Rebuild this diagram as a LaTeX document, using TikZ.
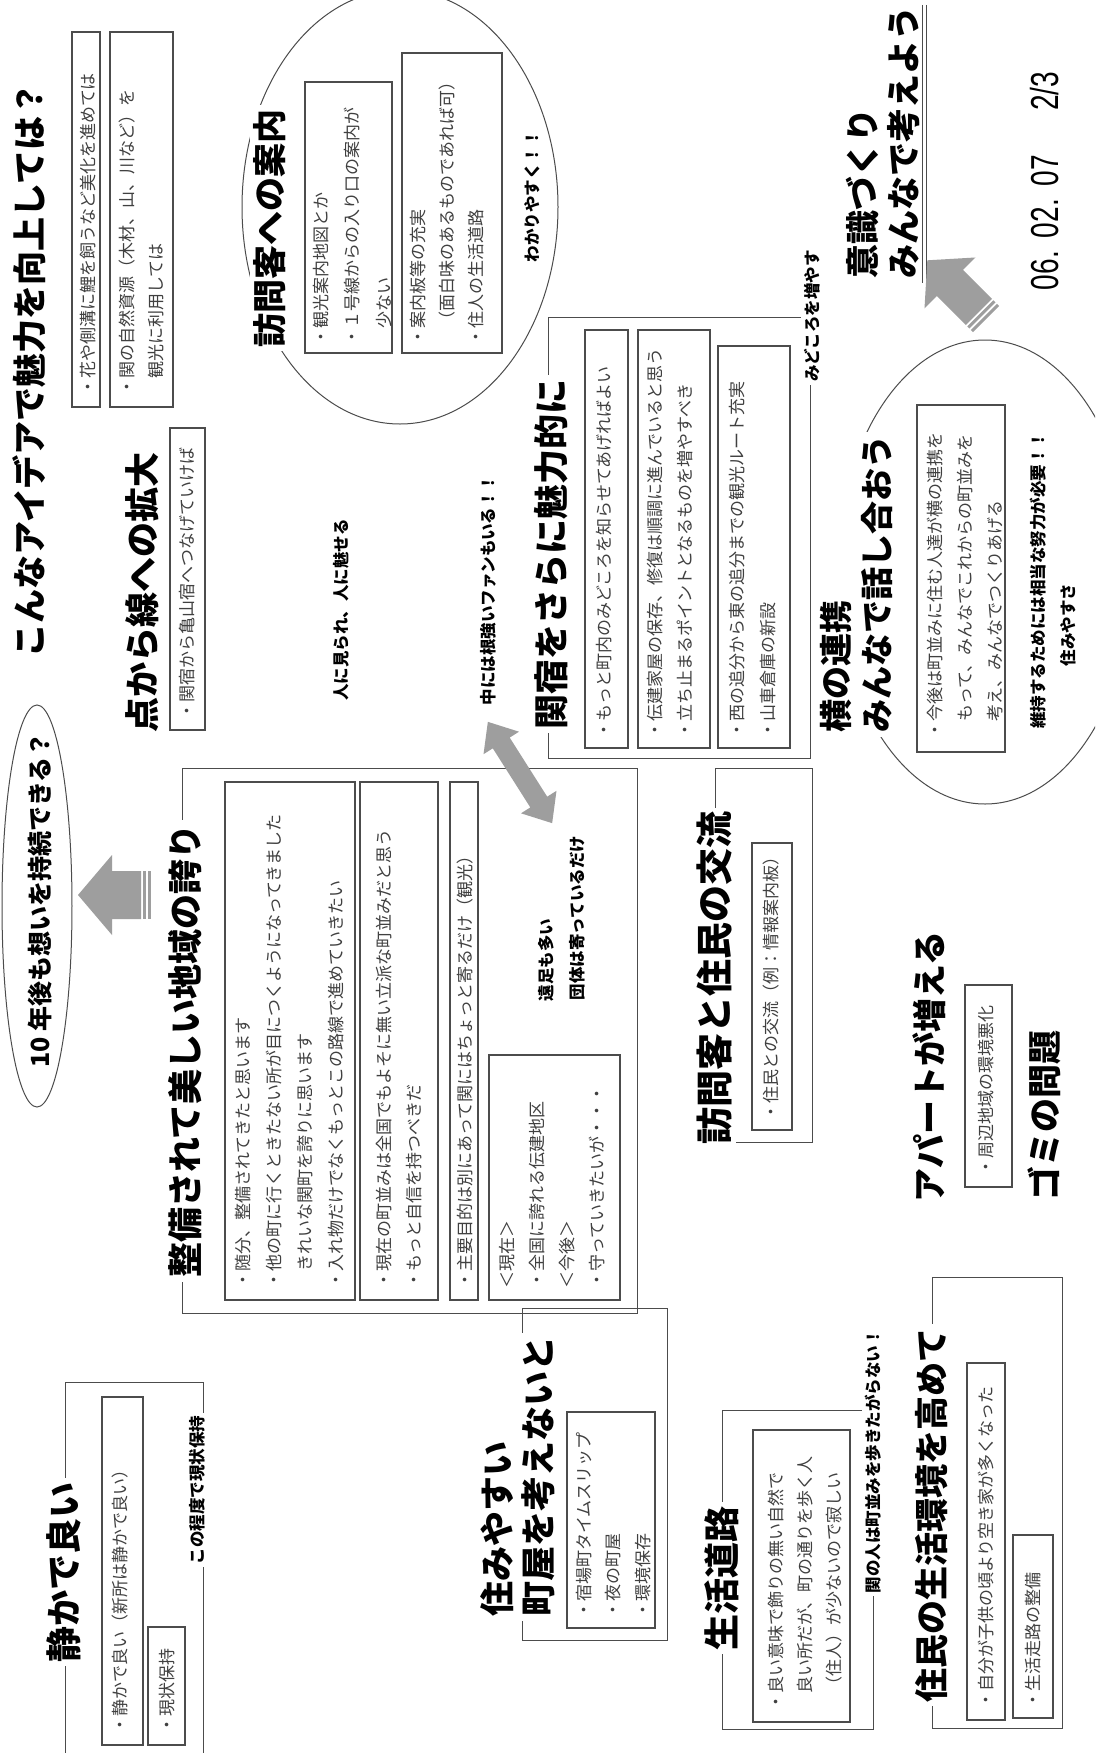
\documentclass[tikz,border=0pt]{standalone}
\usepackage{fontspec}
\newfontfamily\jp{Noto Sans CJK JP}
\newfontfamily\datefont[FakeStretch=0.72]{Liberation Sans}
\tikzset{
  hd/.style={font=\jp\bfseries\fontsize{#1}{41}\selectfont, rotate=90, inner sep=4pt, align=left},
  hd/.default=35,
  hdw/.style={hd=#1, fill=white},
  hdw/.default=35,
  sm/.style={font=\jp\bfseries\fontsize{16.5}{20}\selectfont, rotate=90, inner sep=1pt},
  smw/.style={sm, fill=white, inner sep=3pt},
  body/.style={font=\jp\fontsize{17}{#1}\selectfont, rotate=90, inner sep=0pt, align=left, text=black!75, anchor=west},
  body/.default=30,
  bx/.style={draw=black!70, line width=1.1pt},
  fr/.style={draw=black!70, line width=1pt},
  afill/.style={fill=black!38}
}
\newcommand\stripearrow[7]{%
  \begin{scope}[shift={(#1,#2)},rotate=#3]
    \fill[afill] (0,-#7) rectangle (3,#7);
    \fill[afill] (5,-#7) rectangle (8,#7);
    \fill[afill] (10,-#7) -- (#4-#5,-#7) -- (#4-#5,-#6) -- (#4,0) -- (#4-#5,#6) -- (#4-#5,#7) -- (10,#7) -- cycle;
  \end{scope}}
\begin{document}
\begin{tikzpicture}[x=1pt,y=-1pt]
\useasboundingbox (0,0) rectangle (1095,1753);
\clip (0,0) rectangle (1095,1753);
\fill[white] (0,0) rectangle (1095,1753);

% ---- title and top-left boxes
\node[hd=34, inner sep=0pt] (title) at (29,370) {こんなアイデアで魅力を向上しては？};
\draw[bx] (72,32) rectangle (100,407);
\node[body] (t1) at (88,396) {・花や側溝に鯉を飼うなど美化を進めては};
\draw[bx] (110,32) rectangle (173,407);
\node[body=29] (t2) at (141.5,396) {・関の自然資源（木材、山、川など）を\\　観光に利用しては};

% ---- visitor guidance ellipse
\draw[fr] (400,207) ellipse [x radius=158pt, y radius=217pt];
\node[hdw=34] (h1) at (270,228) {訪問客への案内};
\draw[bx] (305,82) rectangle (392,353);
\node[body=31.5] (t3) at (352.5,346) {・観光案内地図とか\\・１号線からの入り口の案内が\\　少ない};
\draw[bx] (402,53) rectangle (502,353);
\node[body=29] (t4) at (447,346) {・案内板等の充実\\　（面白味のあるものであれば可）\\・住人の生活道路};
\node[sm] (n1) at (532,196) {わかりやすく！！};

% ---- awareness heading, date
\node[hd=34, anchor=west] (h2) at (882.5,283) {意識づくり\\みんなで考えよう};
\draw[black!70, line width=0.9pt] (922,5) -- (922,283);
\draw[black!70, line width=0.9pt] (926,5) -- (926,283);
\node[font=\datefont\fontsize{39}{42}\selectfont, rotate=90, inner sep=0pt] (date) at (1045,181) {06.\hspace{13pt}02.\hspace{13pt}07\hspace{44pt}2/3};
\stripearrow{986}{319}{135}{83}{32}{36}{18.5}

% ---- 10 years ellipse
\draw[fr] (37,906) ellipse [x radius=35pt, y radius=201pt];
\node[font=\jp\bfseries\fontsize{25}{30}\selectfont, rotate=90, inner sep=0pt] (n10) at (40,900) {10 年後も想いを持続できる？};
\stripearrow{151}{895}{180}{73}{34}{40}{24}

% ---- point to line
\node[hd] (h3) at (142,592) {点から線への拡大};
\draw[bx] (170,428) rectangle (205,730);
\node[body] (t5) at (187,720) {・関宿から亀山宿へつなげていけば};
\node[sm] (n2) at (341,610) {人に見られ、人に魅せる};

% ---- main frame
\draw[fr] (182,768) rectangle (637,1313);
\node[hdw] (h4) at (185,1051) {整備されて美しい地域の誇り};
\draw[bx] (225,782) rectangle (355,1300);
\node[body=31] (t6) at (289.5,1289) {・随分、整備されてきたと思います\\・他の町に行くときたない所が目につくようになってきました\\　きれいな関町を誇りに思います\\・入れ物だけでなくもっとこの路線で進めていきたい};
\draw[bx] (360,782) rectangle (438,1300);
\node[body=30] (t7) at (399,1289) {・現在の町並みは全国でもよそに無い立派な町並みだと思う\\・もっと自信を持つべきだ};
\draw[bx] (450,782) rectangle (478,1300);
\node[body] (t8) at (465,1289) {・主要目的は別にあって関にはちょっと寄るだけ（観光）};
\draw[bx] (489,1055) rectangle (620,1300);
\node[body=30] (t9) at (552,1289) {＜現在＞\\・全国に誇れる伝建地区\\＜今後＞\\・守っていきたいが・・・};
\node[sm] (n3) at (546,960) {遠足も多い};
\node[sm] (n4) at (577,918) {団体は寄っているだけ};

% ---- double arrow
\begin{scope}[shift={(520,772.5)}, rotate=-57.6]
\fill[afill] (-60,0) -- (-35,-21) -- (-35,-10) -- (35,-10) -- (35,-21) -- (60,0) -- (35,21) -- (35,10) -- (-35,10) -- (-35,21) -- cycle;
\end{scope}
\node[sm] (n5) at (488,590) {中には根強いファンもいる！！};

% ---- Sekijuku frame
\draw[fr] (548,317) rectangle (810,758);
\node[hdw] (h5) at (551,554) {関宿をさらに魅力的に};
\draw[bx] (585,330) rectangle (628,748);
\node[body] (t10) at (604,739) {・もっと町内のみどころを知らせてあげればよい};
\draw[bx] (638,330) rectangle (710,748);
\node[body=30] (t11) at (670,739) {・伝建家屋の保存、修復は順調に進んでいると思う\\・立ち止まるポイントとなるものを増やすべき};
\draw[bx] (718,346) rectangle (790,748);
\node[body=31] (t12) at (752.5,739) {・西の追分から東の追分までの観光ルート充実\\・山車倉庫の新設};
\node[smw] (n6) at (812,316) {みどころを増やす};

% ---- visitors and residents
\draw[fr] (715,768) rectangle (812,1142);
\node[hdw=37] (h6) at (714,978) {訪問客と住民の交流};
\draw[bx] (752,843) rectangle (792,1130);
\node[body] (t13) at (771,1121) {・住民との交流（例：情報案内板）};

% ---- horizontal cooperation ellipse
\draw[fr] (985,572) ellipse [x radius=148pt, y radius=232pt];
\node[hdw=33, anchor=west] (h7) at (856.5,737) {横の連携\\みんなで話し合おう};
\draw[bx] (917,405) rectangle (1005,752);
\node[body=30] (t14) at (965,739) {・今後は町並みに住む人達が横の連携を\\　もって、みんなでこれからの町並みを\\　考え、みんなでつくりあげる};
\node[sm] (n7) at (1038,580) {維持するためには相当な努力が必要！！};
\node[sm] (n8) at (1068,625) {住みやすさ};

% ---- apartments, garbage
\node[hd=34] (h8) at (929,1067) {アパートが増える};
\draw[bx] (965,985) rectangle (1012,1187);
\node[body] (t15) at (986,1176) {・周辺地域の環境悪化};
\node[hd=34] (h9) at (1044,1115) {ゴミの問題};

% ---- living environment
\draw[fr] (932,1277) rectangle (1062,1728);
\node[hdw=34] (h10) at (932,1515) {住民の生活環境を高めて};
\draw[bx] (967,1363) rectangle (1005,1720);
\node[body] (t16) at (986,1709) {・自分が子供の頃より空き家が多くなった};
\draw[bx] (1013,1535) rectangle (1053,1718);
\node[body] (t17) at (1033,1709) {・生活走路の整備};

% ---- living road
\draw[fr] (722,1410) rectangle (873,1729);
\node[hdw=36] (h11) at (722,1578) {生活道路};
\draw[bx] (753,1430) rectangle (850,1722);
\node[body=29] (t18) at (805,1711) {・良い意味で飾りの無い自然で\\　良い所だが、町の通りを歩く人\\　（住人）が少ないので寂しい};
\node[smw] (n9) at (873,1461) {関の人は町並みを歩きたがらない！};

% ---- townhouses
\draw[fr] (522,1308) rectangle (667,1640);
\node[hdw, anchor=west] (h12) at (517.5,1621) {住みやすい\\町屋を考えないと};
\draw[bx] (567,1412) rectangle (655,1628);
\node[body=29.5] (t19) at (613.5,1619) {・宿場町タイムスリップ\\・夜の町屋\\・環境保存};

% ---- quiet
\draw[fr] (65,1382) rectangle (203,1790);
\node[hdw=36] (h13) at (64,1572) {静かで良い};
\draw[bx] (102,1397) rectangle (143,1745);
\node[body] (t20) at (120,1734) {・静かで良い（新所は静かで良い）};
\draw[bx] (148,1627) rectangle (185,1745);
\node[body] (t21) at (167,1734) {・現状保持};
\node[smw] (n10b) at (197,1490) {この程度で現状保持};
\end{tikzpicture}
\end{document}
